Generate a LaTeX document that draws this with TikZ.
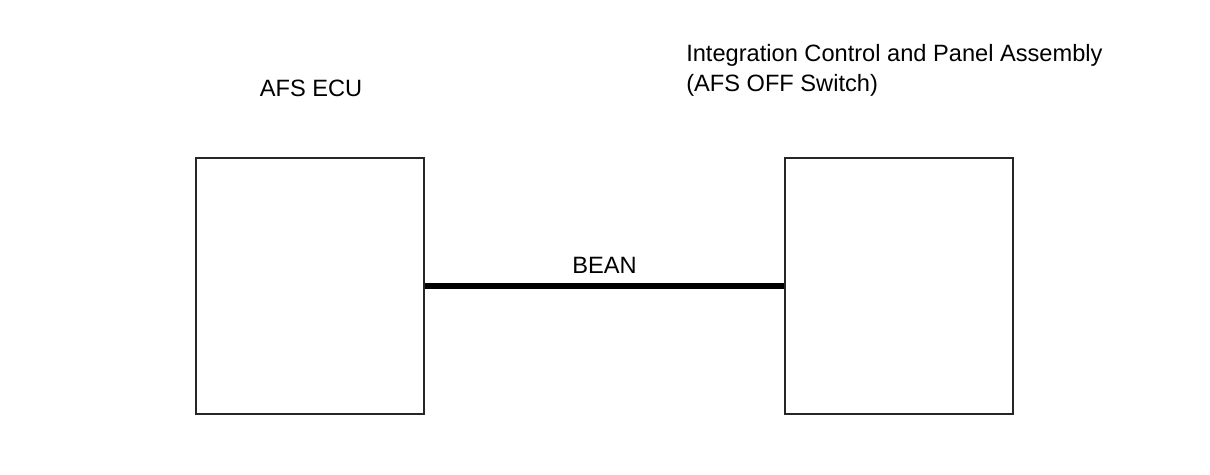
\documentclass[tikz,border=0pt]{standalone}
\usepackage{fontspec}
\setmainfont{Liberation Sans}
\usepackage{tikz}
\usetikzlibrary{positioning}
\tikzset{boxnode/.style={rectangle, draw=black!85, line width=1.4pt, minimum width=5.7cm, minimum height=6.4cm, inner sep=0pt},
titlenode/.style={inner sep=0pt, font=\fontsize{16.8}{21.3}\selectfont, align=left},}

\begin{document}
\begin{tikzpicture}[x=0.025cm, y=-0.025cm, node distance=14.725cm]
\useasboundingbox (0,0) rectangle (1210,474);
\node [boxnode] (ecu) at (310,286) {};
\node [boxnode] (panel) [right of=ecu] {};
\node [titlenode, anchor=base] (ecutitle) at (311,96) {AFS ECU};
\node [titlenode, anchor=north west] (paneltitle) at (686,44) {Integration Control and Panel Assembly\\(AFS OFF Switch)};
\draw[line width=4.3pt] (ecu) -- node[above=3.5pt, font=\fontsize{16.8}{20}\selectfont] {BEAN} (panel);
\end{tikzpicture}
\end{document}
